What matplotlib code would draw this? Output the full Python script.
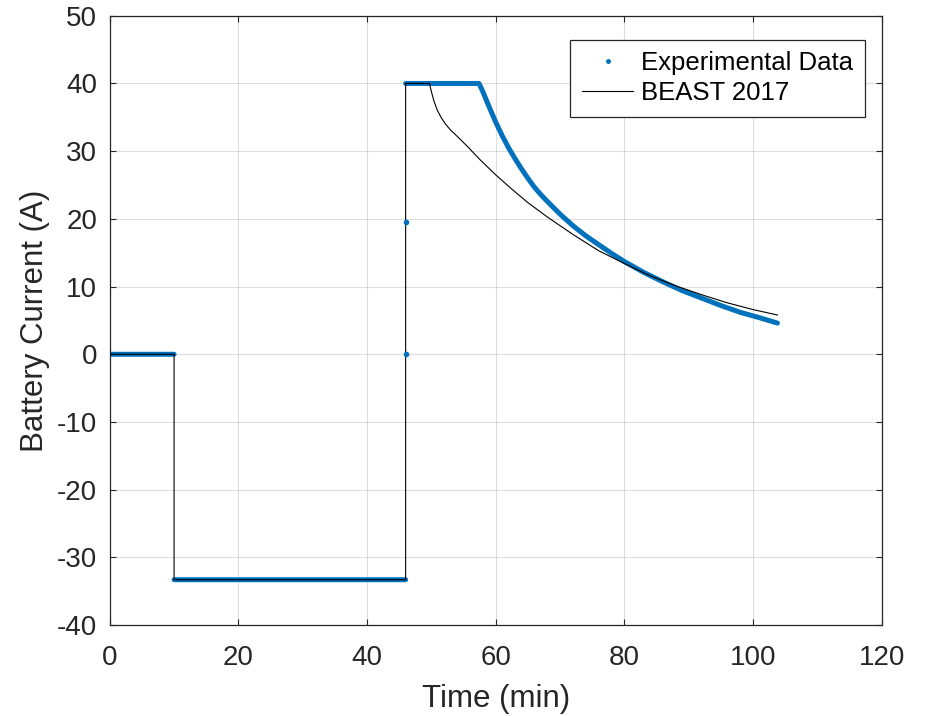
import numpy as np
import matplotlib.pyplot as plt

plt.rcParams['font.family'] = ['Liberation Sans', 'DejaVu Sans']
plt.rcParams['axes.unicode_minus'] = False

exp_time = [0, 10, np.nan, 10, 46, np.nan,
            46, 57.4, 58.0, 59.0, 60.0, 61.0, 62.0, 63.0, 64.0, 65.0,
            66.0, 67.0, 68.0, 70.0, 72.0, 74.0, 76.0, 78.0, 80.0, 83.0,
            86.0, 89.0, 92.0, 95.0, 98.0, 101.0, 103.8]
exp_current = [0, 0, np.nan, -33.3, -33.3, np.nan,
               40, 40, 38.8, 36.5, 34.3, 32.3, 30.5, 28.9, 27.4, 26.0,
               24.7, 23.6, 22.6, 20.7, 19.0, 17.5, 16.2, 14.9, 13.7, 12.1,
               10.7, 9.4, 8.3, 7.2, 6.2, 5.4, 4.6]
# transition samples at the step
step_time = [46, 46]
step_current = [0, 19.5]

# BEAST 2017 model
model_time = [0, 10, 10, 46, 46, 49.7, 50.0, 50.4, 50.9, 51.5, 52.2,
              53.0, 54.0, 55.5, 57.5, 60.0, 62.5, 65.0, 68.0, 72.0, 76.0,
              80.0, 84.0, 88.0, 92.0, 96.0, 100.0, 103.8]
model_current = [0, 0, -33.3, -33.3, 40, 40, 38.8, 37.4, 36.1, 35.0, 34.0,
                 33.1, 32.2, 30.8, 28.8, 26.5, 24.4, 22.4, 20.3, 17.7, 15.3,
                 13.4, 11.6, 10.1, 8.8, 7.6, 6.6, 5.8]

BLUE = '#0072BD'
AXC = '#262626'

fig = plt.figure(figsize=(9.3, 7.16), dpi=100)
ax = fig.add_axes([0.118, 0.127, 0.830, 0.851])

ax.plot(exp_time, exp_current, '-', c=BLUE, lw=3.6, zorder=2,
        solid_capstyle='round')
ax.plot(model_time, model_current, c='k', lw=0.8, zorder=3,
        label='BEAST 2017')
ax.plot(step_time, step_current, '.', c=BLUE, ms=6, zorder=4)
ax.plot([], [], '.', c=BLUE, ms=5, label='Experimental Data')

ax.set_xlim(0, 120)
ax.set_ylim(-40, 50)
ax.set_xticks(np.arange(0, 121, 20))
ax.set_yticks(np.arange(-40, 51, 10))
ax.grid(True, color=AXC, alpha=0.15, lw=0.8)
ax.set_axisbelow(True)
ax.tick_params(direction='in', top=True, right=True, labelsize=20,
               colors=AXC, length=4, width=0.8)
ax.tick_params(axis='x', pad=14)
ax.tick_params(axis='y', pad=9)
for s in ax.spines.values():
    s.set_color(AXC)
    s.set_linewidth(0.9)

ax.set_xlabel('Time (min)', fontsize=22.5, color=AXC, labelpad=10)
ax.set_ylabel('Battery Current (A)', fontsize=22.5, color=AXC, labelpad=5)

handles, labels = ax.get_legend_handles_labels()
leg = ax.legend(handles[::-1], labels[::-1], loc='upper right',
                bbox_to_anchor=(0.978, 0.9606), borderaxespad=0,
                fontsize=18.5, fancybox=False, framealpha=1,
                edgecolor=AXC, handlelength=2.0, handletextpad=0.3,
                borderpad=0.45, labelspacing=0.22)
leg.get_frame().set_linewidth(0.9)

fig.savefig('out.png', dpi=100)
